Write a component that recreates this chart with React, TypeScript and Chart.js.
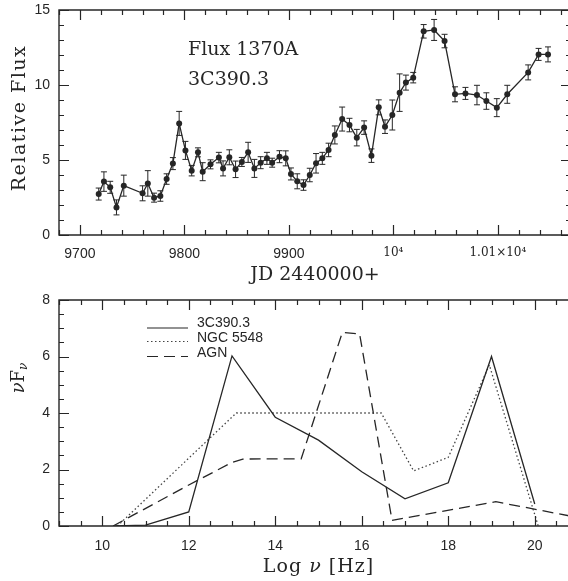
import React, { useEffect, useRef } from 'react';
import { Chart, registerables } from 'chart.js';

Chart.register(...registerables);

const SERIF = '"DejaVu Serif", "Liberation Serif", serif';
const SANS = '"Liberation Sans", Arial, sans-serif';
const INK = '#262626';

// ---- Top panel: Flux 1370A light curve of 3C390.3 ----
const jdDays = [
  9718, 9723, 9729, 9735, 9742, 9760, 9765, 9771, 9777, 9783, 9789, 9795, 9801, 9807, 9813,
  9817.5, 9825, 9833, 9837, 9843, 9849, 9855, 9861, 9867, 9873, 9879, 9884, 9891, 9897, 9902,
  9908, 9914, 9920, 9926, 9932, 9938, 9944, 9951, 9958, 9965, 9972, 9979, 9986, 9992, 9999,
  10006, 10012, 10019, 10029, 10039, 10049, 10059, 10069, 10080, 10089, 10099, 10109, 10129,
  10139, 10148,
];
const relFlux = [
  2.73, 3.56, 3.18, 1.84, 3.29, 2.78, 3.44, 2.49, 2.6, 3.73, 4.76, 7.44, 5.64, 4.29, 5.51,
  4.22, 4.71, 5.16, 4.44, 5.18, 4.38, 4.87, 5.51, 4.44, 4.82, 5.11, 4.82, 5.22, 5.11, 4.07,
  3.58, 3.33, 4.0, 4.78, 5.11, 5.67, 6.67, 7.73, 7.33, 6.49, 7.16, 5.29, 8.51, 7.22, 8.0,
  9.49, 10.16, 10.49, 13.58, 13.67, 12.93, 9.38, 9.44, 9.33, 8.93, 8.49, 9.38, 10.84,
  12.04, 12.04,
];
const fluxErr = [
  0.4, 0.65, 0.4, 0.5, 0.7, 0.5, 0.85, 0.3, 0.35, 0.35, 0.4, 0.8, 0.6, 0.35, 0.3,
  0.6, 0.3, 0.35, 0.5, 0.5, 0.55, 0.3, 0.67, 0.6, 0.4, 0.4, 0.3, 0.4, 0.5, 0.4,
  0.5, 0.35, 0.45, 0.65, 0.4, 0.45, 0.6, 0.8, 0.45, 0.55, 0.45, 0.45, 0.5, 0.45, 1.0,
  1.25, 0.5, 0.35, 0.45, 0.7, 0.45, 0.5, 0.4, 0.65, 0.55, 0.6, 0.6, 0.5, 0.4, 0.5,
];
const topTickValues = [9700, 9800, 9900, 10000, 10100];
const topTickLabels = ['9700', '9800', '9900', '10⁴', '1.01×10⁴'];
const topYTickValues = [0, 5, 10, 15];

// ---- Bottom panel: SEDs ----
const logNu3C = [10.3, 11, 12, 13, 14, 15, 16, 17, 18, 19, 20];
const sed3C = [0, 0.03, 0.5, 6.02, 3.85, 3.04, 1.92, 0.96, 1.53, 6.0, 0.78];
const logNuNGC = [10.35, 13.1, 16.45, 17.2, 18, 18.95, 20.08];
const sedNGC = [0, 4.0, 4.0, 1.95, 2.43, 5.7, 0];
const logNuAGN = [10.25, 12, 13, 13.25, 14.6, 15.55, 15.95, 16.7, 19.1, 21];
const sedAGN = [0, 1.45, 2.25, 2.37, 2.38, 6.85, 6.8, 0.2, 0.86, 0.3];
const botXTickValues = [10, 12, 14, 16, 18, 20];
const botYTickValues = [0, 2, 4, 6, 8];
const legendLabels = ['3C390.3', 'NGC 5548', 'AGN'];

const near = (v: number, arr: number[]) => arr.some((a) => Math.abs(a - v) < 1e-6);

type Seg = { t: string; font: string; dy?: number };

function drawSegs(ctx: CanvasRenderingContext2D, segs: Seg[], cx: number, cy: number, rotate: boolean, spacing = 0) {
  ctx.save();
  ctx.translate(cx, cy);
  if (rotate) ctx.rotate(-Math.PI / 2);
  (ctx as any).letterSpacing = spacing + 'px';
  let total = 0;
  const widths = segs.map((s) => {
    ctx.font = s.font;
    const w = ctx.measureText(s.t).width;
    total += w;
    return w;
  });
  let x = -total / 2;
  ctx.textBaseline = 'middle';
  ctx.textAlign = 'left';
  ctx.fillStyle = INK;
  segs.forEach((s, i) => {
    ctx.font = s.font;
    ctx.fillText(s.t, x, s.dy || 0);
    x += widths[i];
  });
  ctx.restore();
}

function panelPlugin(cfg: {
  xMajor: number[];
  yMajor: number[];
  errors?: { x: number[]; y: number[]; e: number[] };
  texts: (ctx: CanvasRenderingContext2D, chart: any) => void;
}) {
  return {
    id: 'panel',
    afterDatasetsDraw(chart: any) {
      if (!cfg.errors) return;
      const ctx = chart.ctx;
      const xs = chart.scales.x;
      const ys = chart.scales.y;
      const er = cfg.errors;
      ctx.save();
      ctx.strokeStyle = INK;
      ctx.lineWidth = 1;
      ctx.setLineDash([]);
      ctx.beginPath();
      er.x.forEach((xv, i) => {
        const px = xs.getPixelForValue(xv);
        const y1 = ys.getPixelForValue(er.y[i] - er.e[i]);
        const y2 = ys.getPixelForValue(er.y[i] + er.e[i]);
        ctx.moveTo(px, y1);
        ctx.lineTo(px, y2);
        ctx.moveTo(px - 3, y1);
        ctx.lineTo(px + 3, y1);
        ctx.moveTo(px - 3, y2);
        ctx.lineTo(px + 3, y2);
      });
      ctx.stroke();
      ctx.restore();
    },
    afterDraw(chart: any) {
      const ctx: CanvasRenderingContext2D = chart.ctx;
      const a = chart.chartArea;
      const xs = chart.scales.x;
      const ys = chart.scales.y;
      ctx.save();
      ctx.setLineDash([]);
      ctx.globalAlpha = 1;
      ctx.strokeStyle = INK;
      ctx.lineWidth = 1.4;
      ctx.beginPath();
      ctx.rect(a.left, a.top, a.right - a.left, a.bottom - a.top);
      ctx.stroke();
      ctx.lineWidth = 1.2;
      ctx.beginPath();
      xs.ticks.forEach((t: any) => {
        const px = Math.round(xs.getPixelForValue(t.value)) + 0.5;
        const len = near(t.value, cfg.xMajor) ? 10 : 5;
        ctx.moveTo(px, a.bottom);
        ctx.lineTo(px, a.bottom - len);
        ctx.moveTo(px, a.top);
        ctx.lineTo(px, a.top + len);
      });
      ys.ticks.forEach((t: any) => {
        const py = Math.round(ys.getPixelForValue(t.value)) + 0.5;
        const len = near(t.value, cfg.yMajor) ? 10 : 5;
        ctx.moveTo(a.left, py);
        ctx.lineTo(a.left + len, py);
        ctx.moveTo(a.right, py);
        ctx.lineTo(a.right - len, py);
      });
      ctx.stroke();
      ctx.restore();
      ctx.save();
      cfg.texts(ctx, chart);
      ctx.restore();
    },
  };
}

const hiddenGrid = { display: false, drawTicks: false };
const fitX = (s: any) => {
  s.height = 55;
  s.paddingLeft = 0;
  s.paddingRight = 0;
};
const fitY = (s: any) => {
  s.width = 59;
  s.paddingTop = 0;
  s.paddingBottom = 0;
};

function topConfig(): any {
  return {
    type: 'line',
    data: {
      datasets: [
        {
          data: jdDays.map((x, i) => ({ x, y: relFlux[i] })),
          borderColor: INK,
          borderWidth: 1.3,
          pointRadius: 3,
          pointBackgroundColor: INK,
          pointBorderWidth: 0,
          tension: 0,
        },
      ],
    },
    options: {
      responsive: false,
      animation: false,
      devicePixelRatio: 1,
      layout: { padding: { top: 10, left: 0, right: 0, bottom: 0 } },
      plugins: { legend: { display: false }, tooltip: { enabled: false } },
      scales: {
        x: {
          type: 'linear',
          min: 9680,
          max: 10170,
          grid: hiddenGrid,
          border: { display: false },
          afterFit: fitX,
          ticks: {
            stepSize: 20,
            includeBounds: false,
            autoSkip: false,
            maxRotation: 0,
            padding: 11,
            color: INK,
            font: (c: any) =>
              c.tick && c.tick.value >= 10000
                ? { family: SERIF, size: 12 }
                : { family: SANS, size: 14 },
            callback: (v: number) => {
              const i = topTickValues.findIndex((t) => Math.abs(t - v) < 1e-6);
              return i >= 0 ? topTickLabels[i] : '';
            },
          },
        },
        y: {
          min: 0,
          max: 15,
          grid: hiddenGrid,
          border: { display: false },
          afterFit: fitY,
          ticks: {
            stepSize: 1,
            autoSkip: false,
            padding: 9,
            color: INK,
            font: { family: SANS, size: 14 },
            callback: (v: number) => (near(v, topYTickValues) ? String(v) : ''),
          },
        },
      },
    },
    plugins: [
      panelPlugin({
        xMajor: topTickValues,
        yMajor: topYTickValues,
        errors: { x: jdDays, y: relFlux, e: fluxErr },
        texts: (ctx, chart) => {
          const a = chart.chartArea;
          ctx.fillStyle = INK;
          ctx.font = '19px ' + SERIF;
          ctx.textBaseline = 'middle';
          ctx.textAlign = 'left';
          ctx.fillText('Flux 1370A', 188, 50);
          ctx.fillText('3C390.3', 188, 80);
          drawSegs(ctx, [{ t: 'JD 2440000+', font: '19px ' + SERIF }], (a.left + a.right) / 2, 275, false);
          drawSegs(ctx, [{ t: 'Relative Flux', font: '19px ' + SERIF }], 20, 118, true, 1.5);
        },
      }),
    ],
  };
}

function botConfig(): any {
  const pts = (xs: number[], ys: number[]) => xs.map((x, i) => ({ x, y: ys[i] }));
  const base = { pointRadius: 0, tension: 0, borderColor: INK, fill: false };
  return {
    type: 'line',
    data: {
      datasets: [
        { ...base, label: legendLabels[0], data: pts(logNu3C, sed3C), borderWidth: 1.3 },
        { ...base, label: legendLabels[1], data: pts(logNuNGC, sedNGC), borderWidth: 1.3, borderDash: [1.5, 2.5], borderColor: '#444' },
        { ...base, label: legendLabels[2], data: pts(logNuAGN, sedAGN), borderWidth: 1.3, borderDash: [11, 6] },
      ],
    },
    options: {
      responsive: false,
      animation: false,
      devicePixelRatio: 1,
      layout: { padding: { top: 10, left: 0, right: 0, bottom: 0 } },
      plugins: { legend: { display: false }, tooltip: { enabled: false } },
      scales: {
        x: {
          type: 'linear',
          min: 9,
          max: 21,
          grid: hiddenGrid,
          border: { display: false },
          afterFit: fitX,
          ticks: {
            stepSize: 0.5,
            includeBounds: false,
            autoSkip: false,
            maxRotation: 0,
            padding: 12,
            color: INK,
            font: { family: SANS, size: 14 },
            callback: (v: number) => (near(v, botXTickValues) ? String(v) : ''),
          },
        },
        y: {
          min: 0,
          max: 8,
          grid: hiddenGrid,
          border: { display: false },
          afterFit: fitY,
          ticks: {
            stepSize: 0.5,
            autoSkip: false,
            padding: 9,
            color: INK,
            font: { family: SANS, size: 14 },
            callback: (v: number) => (near(v, botYTickValues) ? String(v) : ''),
          },
        },
      },
    },
    plugins: [
      panelPlugin({
        xMajor: botXTickValues,
        yMajor: botYTickValues,
        texts: (ctx, chart) => {
          const a = chart.chartArea;
          const lineYs = [38, 51.5, 66.5];
          const textYs = [33.5, 48, 63];
          const dashes = [[], [1.5, 2.5], [11, 6]];
          legendLabels.forEach((lab, i) => {
            ctx.save();
            ctx.strokeStyle = i === 1 ? '#444' : INK;
            ctx.lineWidth = 1.2;
            ctx.setLineDash(dashes[i]);
            ctx.beginPath();
            ctx.moveTo(147, lineYs[i]);
            ctx.lineTo(188, lineYs[i]);
            ctx.stroke();
            ctx.restore();
            ctx.fillStyle = INK;
            ctx.font = '14px ' + SANS;
            ctx.textAlign = 'left';
            ctx.textBaseline = 'middle';
            ctx.fillText(lab, 197, textYs[i]);
          });
          drawSegs(
            ctx,
            [
              { t: 'Log ', font: '19px ' + SERIF },
              { t: 'ν', font: 'italic 19px ' + SERIF },
              { t: ' [Hz]', font: '19px ' + SERIF },
            ],
            (a.left + a.right) / 2,
            277,
            false,
            1
          );
          drawSegs(
            ctx,
            [
              { t: 'ν', font: 'italic 18px ' + SERIF },
              { t: 'F', font: '18px ' + SERIF },
              { t: 'ν', font: 'italic 12px ' + SERIF, dy: 5 },
            ],
            19,
            88,
            true
          );
        },
      }),
    ],
  };
}

export default function App() {
  const topRef = useRef<HTMLCanvasElement>(null);
  const botRef = useRef<HTMLCanvasElement>(null);
  useEffect(() => {
    const charts: Chart[] = [];
    if (topRef.current) charts.push(new Chart(topRef.current, topConfig()));
    if (botRef.current) charts.push(new Chart(botRef.current, botConfig()));
    return () => charts.forEach((c) => c.destroy());
  }, []);
  return (
    <div
      style={{
        position: 'fixed',
        left: 0,
        top: 0,
        width: 568,
        height: 581,
        overflow: 'hidden',
        background: '#fff',
      }}
    >
      <canvas
        ref={topRef}
        width={575}
        height={290}
        style={{ position: 'absolute', left: 0, top: 0, width: 575, height: 290 }}
      />
      <canvas
        ref={botRef}
        width={578}
        height={291}
        style={{ position: 'absolute', left: 0, top: 290, width: 578, height: 291 }}
      />
    </div>
  );
}
